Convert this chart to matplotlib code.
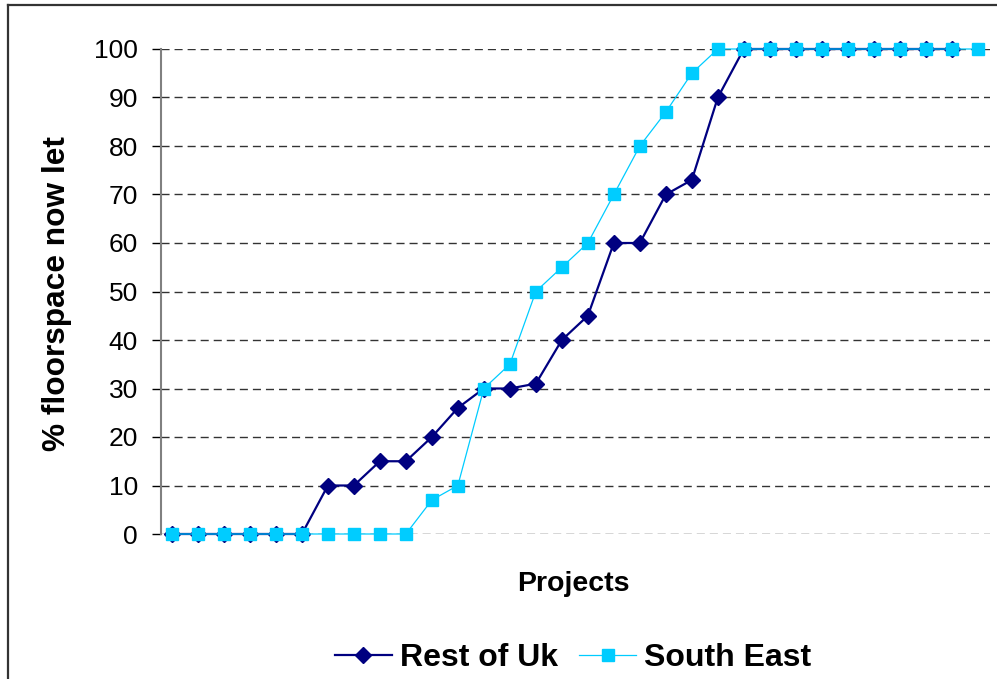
import matplotlib
matplotlib.use('Agg')  # no display in the sandbox
import numpy as np
import matplotlib.pyplot as plt
from matplotlib.lines import Line2D

# % of floorspace let, one value per project
rest_of_uk = [0, 0, 0, 0, 0, 0, 10, 10, 15, 15, 20, 26, 30, 30, 31, 40,
              45, 60, 60, 70, 73, 90, 100, 100, 100, 100, 100, 100, 100, 100, 100]
south_east = [0, 0, 0, 0, 0, 0, 0, 0, 0, 0, 7, 10, 30, 35, 50, 55,
              60, 70, 80, 87, 95, 100, 100, 100, 100, 100, 100, 100, 100, 100, 100, 100]
series_names = ['Rest of Uk', 'South East']
y_ticks = [0, 10, 20, 30, 40, 50, 60, 70, 80, 90, 100]

plt.rcParams['font.family'] = ['Liberation Sans', 'DejaVu Sans']
plt.rcParams['lines.scale_dashes'] = False

W, H = 997, 679
fig = plt.figure(figsize=(W / 100, H / 100), dpi=100)
ax = fig.add_axes([161 / W, 145 / H, 829 / W, 485 / H])

# outer chart-area border (only left and top edges fall inside the picture)
fig.add_artist(Line2D([8 / W, 8 / W], [0, 1 - 5 / H], transform=fig.transFigure,
                      color='#333333', lw=1.6))
fig.add_artist(Line2D([8 / W, 1], [1 - 5 / H, 1 - 5 / H], transform=fig.transFigure,
                      color='#333333', lw=1.6))

x_rest = np.arange(len(rest_of_uk))
x_se = np.arange(len(south_east))

ax.plot(x_rest, rest_of_uk, color='#000080', lw=1.6, marker='D', ms=8.5,
        mec='#000080', mfc='#000080', clip_on=False, zorder=3, label=series_names[0])
ax.plot(x_se, south_east, color='#00CCFF', lw=0.9, marker='s', ms=8.5,
        mec='#00CCFF', mfc='#00CCFF', clip_on=False, zorder=4, label=series_names[1])

ax.set_xlim(-0.42, 31.47)
ax.set_ylim(0, 100)
ax.set_xticks([])
ax.set_yticks(y_ticks)
ax.set_yticklabels([str(v) for v in y_ticks], fontsize=19)
ax.tick_params(axis='y', direction='out', length=6.5, width=1, color='black', pad=10)

ax.yaxis.grid(True, color='#333333', lw=1, linestyle=(0, (5.8, 3.6)))
ax.set_axisbelow(True)

for side in ['top', 'right', 'bottom']:
    ax.spines[side].set_visible(False)
ax.spines['left'].set_color('#808080')
ax.spines['left'].set_linewidth(1.5)

ax.set_ylabel('% floorspace now let', fontsize=22.8, fontweight='bold')
ax.yaxis.set_label_coords(-0.107, 0.495)
ax.set_xlabel('Projects', fontsize=20.5, fontweight='bold')
ax.xaxis.set_label_coords(0.497, -0.076)

fig.legend(loc='center', bbox_to_anchor=(573 / W, 1 - 658 / H), ncol=2, frameon=False,
           prop={'size': 23, 'weight': 'bold'}, handlelength=1.8, handletextpad=0.25,
           columnspacing=0.65, borderaxespad=0)

fig.savefig('out.png', dpi=100, facecolor='white')
